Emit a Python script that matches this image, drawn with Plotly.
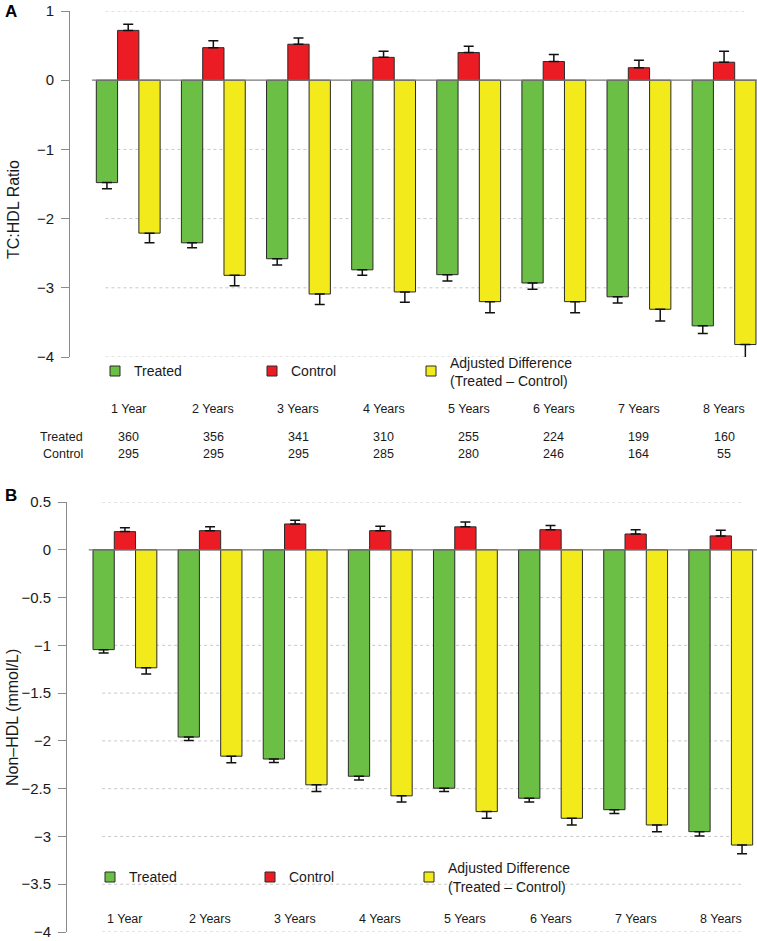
import plotly.graph_objects as go

# ---------------- data ----------------
years = ["1 Year", "2 Years", "3 Years", "4 Years", "5 Years", "6 Years", "7 Years", "8 Years"]

# Panel A: TC:HDL ratio
treated_A = [-1.48, -2.35, -2.58, -2.74, -2.81, -2.93, -3.13, -3.55]
treated_A_err = [0.09, 0.07, 0.09, 0.08, 0.09, 0.09, 0.09, 0.11]
control_A = [0.72, 0.47, 0.52, 0.33, 0.40, 0.27, 0.18, 0.26]
control_A_err = [0.09, 0.10, 0.09, 0.09, 0.09, 0.10, 0.11, 0.16]
diff_A = [-2.21, -2.82, -3.09, -3.06, -3.20, -3.20, -3.31, -3.82]
diff_A_err = [0.14, 0.15, 0.15, 0.15, 0.16, 0.16, 0.17, 0.20]

# Panel B: Non-HDL (mmol/L)
treated_B = [-1.045, -1.96, -2.19, -2.37, -2.495, -2.60, -2.72, -2.95]
treated_B_err = [0.035, 0.035, 0.035, 0.04, 0.035, 0.04, 0.04, 0.045]
control_B = [0.19, 0.20, 0.27, 0.20, 0.24, 0.21, 0.165, 0.145]
control_B_err = [0.04, 0.04, 0.04, 0.045, 0.05, 0.045, 0.045, 0.06]
diff_B = [-1.235, -2.16, -2.46, -2.575, -2.74, -2.81, -2.88, -3.09]
diff_B_err = [0.065, 0.07, 0.07, 0.065, 0.07, 0.07, 0.07, 0.09]

n_treated = [360, 356, 341, 310, 255, 224, 199, 160]
n_control = [295, 295, 295, 285, 280, 246, 164, 55]

ticks_A = [1, 0, -1, -2, -3, -4]
ticks_B = [0.5, 0, -0.5, -1, -1.5, -2, -2.5, -3, -3.5, -4]

# ---------------- style ----------------
W, H = 757, 941
FONT = "Liberation Sans, Arial, Helvetica, sans-serif"
GREEN, RED, YELLOW = "#6cbf45", "#ec1c24", "#f2ea1a"
EDGE = "#2a2a2a"
AXC = "#8a8a8a"
TXT = "#1a1a1a"

def fmt(v):
    s = ("%g" % v)
    return s.replace("-", "\u2212")

def px_x(p):
    return p / W

def px_y(p):
    return 1 - p / H

fig = go.Figure()

n = len(years)
xs_green = [i * 4 + 0.5 for i in range(n)]
xs_red = [i * 4 + 1.5 for i in range(n)]
xs_yel = [i * 4 + 2.5 for i in range(n)]

def add_panel(xa, ya, tr, tre, co, coe, di, die):
    for xs, vals, errs, col, up in [
        (xs_green, tr, tre, GREEN, False),
        (xs_red, co, coe, RED, True),
        (xs_yel, di, die, YELLOW, False),
    ]:
        zeros = [0] * len(errs)
        fig.add_trace(go.Bar(
            x=xs, y=vals, width=1.0, xaxis=xa, yaxis=ya,
            marker=dict(color=col, line=dict(color=EDGE, width=1)),
            error_y=dict(type="data", symmetric=False,
                         array=errs if up else zeros,
                         arrayminus=zeros if up else errs,
                         color="#111111", thickness=1.5, width=5),
            showlegend=False, hoverinfo="skip",
        ))

add_panel("x", "y", treated_A, treated_A_err, control_A, control_A_err, diff_A, diff_A_err)
add_panel("x2", "y2", treated_B, treated_B_err, control_B, control_B_err, diff_B, diff_B_err)

# pixel geometry
unit = 21.28
a_x0, b_x0 = 96.3, 93.0  # pixel of data x=0
a_axis, b_axis = 70, 67
a_top, a_bot = 11, 357
b_top, b_bot = 502, 932

yaxis_common = dict(showgrid=False, zeroline=False, showline=True, linecolor=AXC, linewidth=1,
                    ticks="outside", ticklen=8, tickcolor=AXC, tickwidth=1,
                    tickfont=dict(family=FONT, size=15, color=TXT), ticklabelstandoff=4,
                    ticklabeloverflow="allow", automargin=False)
xaxis_common = dict(visible=False, automargin=False)

fig.update_layout(
    width=W, height=H,
    margin=dict(l=0, r=0, t=0, b=0),
    paper_bgcolor="white", plot_bgcolor="white",
    barmode="overlay",
    xaxis=dict(domain=[px_x(a_axis), 1],
               range=[(a_axis - a_x0) / unit, (W - a_x0) / unit], anchor="y", **xaxis_common),
    yaxis=dict(domain=[px_y(a_bot), px_y(a_top)], range=[-4, 1], anchor="x",
               tickvals=ticks_A, ticktext=[fmt(v) for v in ticks_A], **yaxis_common),
    xaxis2=dict(domain=[px_x(b_axis), 1],
                range=[(b_axis - b_x0) / unit, (W - b_x0) / unit], anchor="y2", **xaxis_common),
    yaxis2=dict(domain=[px_y(b_bot), px_y(b_top)], range=[-4, 0.5], anchor="x2",
                tickvals=ticks_B, ticktext=[fmt(v) for v in ticks_B], **yaxis_common),
)

shapes = []
annots = []

# grid lines and zero lines
for xr, yr, ticks in [("x", "y", ticks_A), ("x2", "y2", ticks_B)]:
    for t in ticks:
        if t == 0:
            continue
        shapes.append(dict(type="line", xref=xr, yref=yr, x0=0.43, x1=30.45, y0=t, y1=t,
                           line=dict(color="#c8c8c8", width=1, dash="dot"), layer="below"))
    shapes.append(dict(type="line", xref=xr, yref=yr, x0=-0.2, x1=32, y0=0, y1=0,
                       line=dict(color="#7a7a7a", width=1.2), layer="above"))

# panel letters
annots.append(dict(text="<b>A</b>", x=px_x(3), y=px_y(0), xref="paper", yref="paper",
                   xanchor="left", yanchor="top", showarrow=False,
                   font=dict(family=FONT, size=17, color="black")))
annots.append(dict(text="<b>B</b>", x=px_x(3), y=px_y(495), xref="paper", yref="paper",
                   xanchor="left", yanchor="middle", showarrow=False,
                   font=dict(family=FONT, size=17, color="black")))

# axis titles
annots.append(dict(text="TC:HDL Ratio", x=px_x(13), y=px_y(210), xref="paper", yref="paper",
                   textangle=-90, showarrow=False, xanchor="center", yanchor="middle",
                   font=dict(family=FONT, size=16, color=TXT)))
annots.append(dict(text="Non\u2013HDL (mmol/L)", x=px_x(12), y=px_y(718), xref="paper", yref="paper",
                   textangle=-90, showarrow=False, xanchor="center", yanchor="middle",
                   font=dict(family=FONT, size=16, color=TXT)))

# legends
def legend(sq_x, text_x, y_c, y_l1, y_l2):
    items = [(GREEN, "Treated"), (RED, "Control"), (YELLOW, None)]
    for k, (col, lab) in enumerate(items):
        sx = sq_x[k]
        shapes.append(dict(type="rect", xref="paper", yref="paper",
                           x0=px_x(sx), x1=px_x(sx + 10), y0=px_y(y_c + 5), y1=px_y(y_c - 5),
                           fillcolor=col, line=dict(color=EDGE, width=1)))
        if lab:
            annots.append(dict(text=lab, x=px_x(text_x[k]), y=px_y(y_c), xref="paper", yref="paper",
                               xanchor="left", yanchor="middle", showarrow=False,
                               font=dict(family=FONT, size=14, color=TXT)))
    annots.append(dict(text="Adjusted Difference", x=px_x(text_x[2]), y=px_y(y_l1),
                       xref="paper", yref="paper", xanchor="left", yanchor="middle",
                       showarrow=False, font=dict(family=FONT, size=14, color=TXT)))
    annots.append(dict(text="(Treated \u2013 Control)", x=px_x(text_x[2]), y=px_y(y_l2),
                       xref="paper", yref="paper", xanchor="left", yanchor="middle",
                       showarrow=False, font=dict(family=FONT, size=14, color=TXT)))

legend([110, 267, 426], [132, 289, 448], 371, 363, 381)
legend([105, 265, 424], [127, 287, 446], 877, 868, 887)

# year labels
for xr, yc in [("x", 409), ("x2", 919)]:
    for i, lab in enumerate(years):
        annots.append(dict(text=lab, x=xs_red[i], y=px_y(yc), xref=xr, yref="paper",
                           xanchor="center", yanchor="middle", showarrow=False,
                           font=dict(family=FONT, size=12.5, color=TXT)))

# sample-size table (panel A)
for row_lab, vals, yc in [("Treated", n_treated, 437), ("Control", n_control, 454)]:
    annots.append(dict(text=row_lab, x=px_x(85), y=px_y(yc), xref="paper", yref="paper",
                       xanchor="right", yanchor="middle", showarrow=False,
                       font=dict(family=FONT, size=12.5, color=TXT)))
    for i, v in enumerate(vals):
        annots.append(dict(text=str(v), x=xs_red[i], y=px_y(yc), xref="x", yref="paper",
                           xanchor="center", yanchor="middle", showarrow=False,
                           font=dict(family=FONT, size=12.5, color=TXT)))

fig.update_layout(shapes=shapes, annotations=annots)
fig.write_html("out.html", config={"displayModeBar": False},
               post_script="document.body.style.margin='0';document.body.style.overflow='hidden';")
